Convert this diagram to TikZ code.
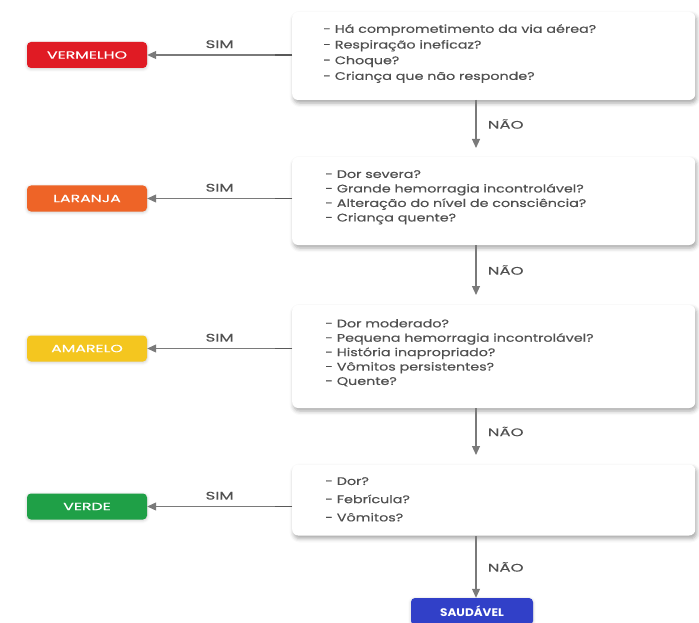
\documentclass[tikz,border=0pt]{standalone}
\usepackage{fontspec}
\setmainfont{Poppins}
\newfontfamily\bodyf[FakeStretch=1.3,FakeBold=0.4]{Poppins}
\newfontfamily\capf[FakeStretch=1.5,FakeBold=0.3]{Poppins}
\newfontfamily\boldf[FakeStretch=1.1]{Poppins}
\usetikzlibrary{shadows,shadows.blur,arrows.meta}
\definecolor{txt}{HTML}{505050}
\definecolor{lin}{HTML}{7A7A7A}
\definecolor{cred}{HTML}{E01B24}
\definecolor{corange}{HTML}{EE6427}
\definecolor{cyellow}{HTML}{F4C61F}
\definecolor{cgreen}{HTML}{1FA047}
\definecolor{cblue}{HTML}{3140C8}
\tikzset{
  qbox/.style={draw=none, fill=white, rounded corners=6pt, minimum width=403pt,
    blur shadow={shadow xshift=1.5pt, shadow yshift=-3pt, shadow blur radius=4pt, shadow opacity=35},
    anchor=west, inner sep=0pt},
  qtext/.style={anchor=north west, align=left, inner sep=0pt, text=txt},
  tag/.style={rounded corners=4pt, minimum width=120pt, minimum height=26pt,
    text=white, font=\capf\fontsize{10.5}{12}\selectfont,
    blur shadow={shadow xshift=0pt, shadow yshift=-1pt, shadow blur radius=3pt, shadow opacity=20}},
  conn/.style={draw=lin, line width=1.1pt, -{Triangle[length=9pt,width=8pt]}},
  stub/.style={draw=black!65, line width=1.1pt},
  lbl/.style={font=\capf\fontsize{11}{12}\selectfont, text=txt}
}
\begin{document}
\begin{tikzpicture}[x=1pt,y=-1pt]
\useasboundingbox (0,0) rectangle (699,623);
% question boxes
\node[qbox, minimum height=88pt] (q1) at (292,56) {};
\node[qbox, minimum height=88pt] (q2) at (292,201) {};
\node[qbox, minimum height=103pt] (q3) at (292,356.5) {};
\node[qbox, minimum height=71pt] (q4) at (292,500) {};
\node[qtext, font=\bodyf\fontsize{11}{15.7}\selectfont] (t1) at (323,24)
 {- Há comprometimento da via aérea?\\- Respiração ineficaz?\\- Choque?\\- Criança que não responde?};
\node[qtext, font=\bodyf\fontsize{11}{14.5}\selectfont] (t2) at (325,170)
 {- Dor severa?\\- Grande hemorragia incontrolável?\\- Alteração do nível de consciência?\\- Criança quente?};
\node[qtext, font=\bodyf\fontsize{11}{14.4}\selectfont] (t3) at (325,319)
 {- Dor moderado?\\- Pequena hemorragia incontrolável?\\- História inapropriado?\\- Vômitos persistentes?\\- Quente?};
\node[qtext, font=\bodyf\fontsize{11}{18.2}\selectfont] (t4) at (325,477)
 {- Dor?\\- Febrícula?\\- Vômitos?};
% colour tags
\node[tag, fill=cred] (r) at (87,55) {VERMELHO};
\node[tag, fill=corange] (o) at (87,198.5) {LARANJA};
\node[tag, fill=cyellow] (y) at (87,348.5) {AMARELO};
\node[tag, fill=cgreen] (g) at (87,506.5) {VERDE};
\node[tag, fill=cblue, minimum width=122pt, minimum height=27pt, font=\boldf\bfseries\fontsize{11}{12}\selectfont] (s) at (472,611.5) {SAUDÁVEL};
% SIM connectors
\foreach \q/\c/\yy in {q1/r/55, q2/o/198.5, q3/y/348.5, q4/g/506.5}{
  \coordinate (a\q) at (292,\yy);
  \coordinate (b\q) at (275,\yy);
  \draw[conn] (a\q) -- (\c.east) node[midway, above=3pt, lbl] {SIM};
  \draw[stub] (a\q) -- (b\q);
}
% NÃO connectors
\foreach \i/\ya/\yb in {1/100/148, 2/245/295, 3/408/455, 4/536/593}{
  \coordinate (d\i) at (476,\ya);
  \coordinate (e\i) at (476,\yb);
}
\draw[conn] (d1) -- (e1) node[midway, right=8pt, lbl] {NÃO};
\draw[conn] (d2) -- (e2) node[midway, right=8pt, lbl] {NÃO};
\draw[conn] (d3) -- (e3) node[midway, right=8pt, lbl] {NÃO};
\draw[conn] (d4) -- (s.north -| d4) node[midway, right=8pt, lbl] {NÃO};
\end{tikzpicture}
\end{document}
